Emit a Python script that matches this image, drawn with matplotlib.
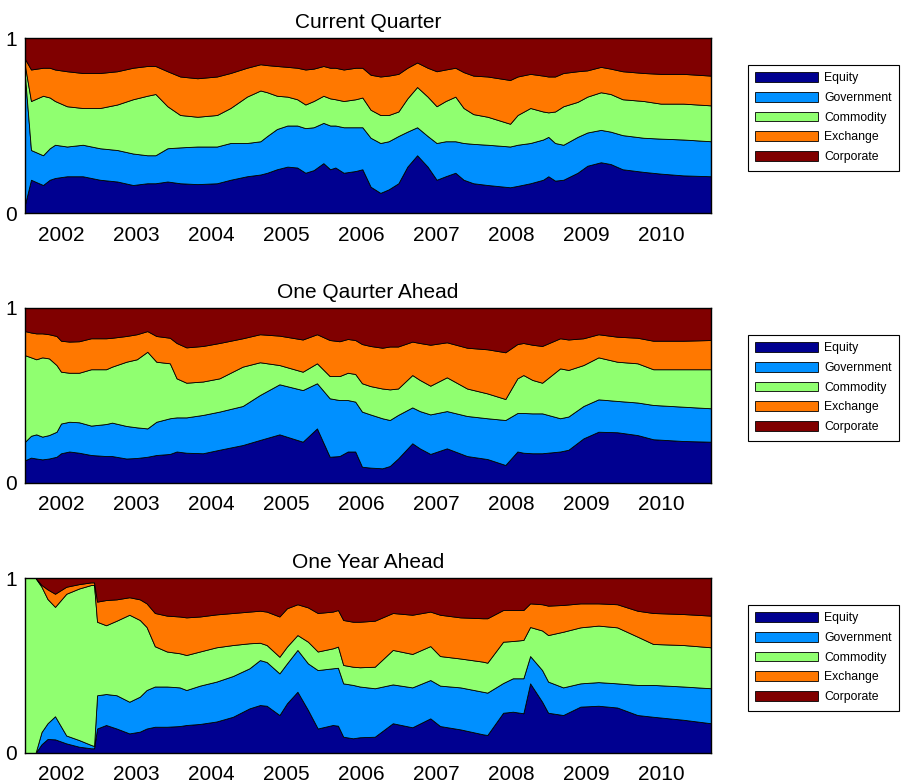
import numpy as np
import matplotlib
matplotlib.use('Agg')
import matplotlib.pyplot as plt

plt.rcParams['font.family'] = ['Liberation Sans', 'DejaVu Sans']

# Categories and colours (jet-like, as in the original MATLAB output)
labels = ['Equity', 'Government', 'Commodity', 'Exchange', 'Corporate']
colors = ['#000090', '#0090ff', '#90ff70', '#ff7800', '#800000']
tick_years = [2002, 2003, 2004, 2005, 2006, 2007, 2008, 2009, 2010]

# Each series below is the cumulative share up to and including that category
# (Corporate always fills the rest up to 1).

# ---- Current Quarter
cq_year = [2001.51, 2001.59, 2001.75, 2001.84, 2001.91, 2002.07, 2002.28, 2002.51, 2002.74, 2002.95,
           2003.14, 2003.25, 2003.41, 2003.58, 2003.81, 2004.07, 2004.25, 2004.47, 2004.65, 2004.74,
           2004.87, 2005.01, 2005.14, 2005.25, 2005.36, 2005.49, 2005.58, 2005.65, 2005.76, 2005.92,
           2006.01, 2006.12, 2006.25, 2006.36, 2006.49, 2006.61, 2006.74, 2006.88, 2007.00, 2007.12,
           2007.25, 2007.36, 2007.49, 2007.68, 2007.98, 2008.08, 2008.25, 2008.42, 2008.49, 2008.58,
           2008.69, 2008.88, 2009.01, 2009.19, 2009.32, 2009.48, 2009.76, 2009.99, 2010.29, 2010.66]
cq_equity = [0.05, 0.19, 0.16, 0.19, 0.20, 0.21, 0.21, 0.19, 0.18, 0.16,
             0.17, 0.17, 0.18, 0.17, 0.165, 0.17, 0.19, 0.21, 0.22, 0.23,
             0.25, 0.265, 0.26, 0.23, 0.245, 0.285, 0.25, 0.26, 0.23, 0.24,
             0.25, 0.15, 0.115, 0.135, 0.17, 0.265, 0.33, 0.265, 0.19, 0.21,
             0.23, 0.19, 0.17, 0.16, 0.147, 0.155, 0.17, 0.19, 0.21, 0.185,
             0.19, 0.23, 0.27, 0.29, 0.28, 0.25, 0.235, 0.225, 0.215, 0.21]
cq_government = [0.78, 0.36, 0.33, 0.37, 0.39, 0.38, 0.39, 0.37, 0.36, 0.34,
                 0.33, 0.33, 0.37, 0.375, 0.38, 0.38, 0.40, 0.40, 0.41, 0.44,
                 0.48, 0.50, 0.50, 0.485, 0.49, 0.515, 0.50, 0.50, 0.49, 0.49,
                 0.49, 0.43, 0.40, 0.41, 0.44, 0.465, 0.49, 0.44, 0.40, 0.41,
                 0.41, 0.40, 0.395, 0.39, 0.38, 0.39, 0.40, 0.42, 0.435, 0.40,
                 0.39, 0.435, 0.46, 0.475, 0.465, 0.445, 0.43, 0.425, 0.42, 0.41]
cq_commodity = [0.84, 0.64, 0.67, 0.66, 0.64, 0.61, 0.60, 0.60, 0.62, 0.65,
                0.67, 0.68, 0.61, 0.56, 0.55, 0.56, 0.60, 0.665, 0.70, 0.69,
                0.67, 0.665, 0.65, 0.62, 0.64, 0.67, 0.655, 0.65, 0.64, 0.65,
                0.66, 0.59, 0.56, 0.56, 0.58, 0.655, 0.72, 0.665, 0.61, 0.64,
                0.665, 0.60, 0.565, 0.55, 0.51, 0.56, 0.60, 0.58, 0.575, 0.58,
                0.61, 0.635, 0.665, 0.69, 0.68, 0.65, 0.64, 0.625, 0.625, 0.615]
cq_exchange = [0.88, 0.82, 0.83, 0.83, 0.82, 0.81, 0.80, 0.80, 0.81, 0.83,
               0.84, 0.84, 0.81, 0.78, 0.77, 0.78, 0.80, 0.83, 0.85, 0.845,
               0.84, 0.835, 0.83, 0.82, 0.825, 0.84, 0.83, 0.83, 0.82, 0.83,
               0.83, 0.79, 0.78, 0.785, 0.795, 0.83, 0.86, 0.83, 0.81, 0.82,
               0.83, 0.805, 0.785, 0.78, 0.76, 0.78, 0.795, 0.785, 0.78, 0.78,
               0.80, 0.81, 0.815, 0.835, 0.825, 0.81, 0.80, 0.795, 0.795, 0.785]

# ---- One Quarter Ahead
oq_year = [2001.52, 2001.60, 2001.67, 2001.75, 2001.84, 2001.94, 2002.00, 2002.11, 2002.24, 2002.40,
           2002.60, 2002.68, 2002.87, 2003.01, 2003.15, 2003.27, 2003.45, 2003.54, 2003.67, 2003.89,
           2004.11, 2004.42, 2004.65, 2004.91, 2005.22, 2005.41, 2005.58, 2005.71, 2005.82, 2005.92,
           2006.01, 2006.12, 2006.28, 2006.38, 2006.49, 2006.68, 2006.78, 2006.92, 2007.14, 2007.41,
           2007.68, 2007.92, 2008.08, 2008.16, 2008.28, 2008.41, 2008.65, 2008.76, 2008.96, 2009.16,
           2009.41, 2009.68, 2009.89, 2010.29, 2010.66]
oq_equity = [0.13, 0.145, 0.14, 0.135, 0.14, 0.15, 0.17, 0.18, 0.173, 0.16,
             0.154, 0.154, 0.14, 0.143, 0.15, 0.16, 0.166, 0.18, 0.173, 0.17,
             0.19, 0.217, 0.246, 0.278, 0.236, 0.312, 0.15, 0.154, 0.18, 0.18,
             0.093, 0.088, 0.084, 0.097, 0.14, 0.227, 0.198, 0.166, 0.198, 0.154,
             0.137, 0.103, 0.18, 0.173, 0.17, 0.17, 0.18, 0.19, 0.255, 0.293,
             0.29, 0.274, 0.25, 0.24, 0.236]
oq_government = [0.236, 0.27, 0.278, 0.265, 0.274, 0.293, 0.34, 0.35, 0.347, 0.328,
                 0.337, 0.345, 0.326, 0.318, 0.312, 0.35, 0.37, 0.375, 0.375, 0.389,
                 0.408, 0.44, 0.503, 0.564, 0.531, 0.57, 0.484, 0.474, 0.474, 0.465,
                 0.408, 0.392, 0.37, 0.36, 0.389, 0.432, 0.411, 0.392, 0.411, 0.383,
                 0.37, 0.36, 0.40, 0.40, 0.398, 0.398, 0.37, 0.38, 0.44, 0.478,
                 0.469, 0.46, 0.446, 0.436, 0.427]
oq_commodity = [0.73, 0.718, 0.707, 0.718, 0.712, 0.674, 0.636, 0.63, 0.63, 0.65,
                0.65, 0.665, 0.693, 0.707, 0.75, 0.693, 0.684, 0.598, 0.573, 0.58,
                0.598, 0.665, 0.69, 0.674, 0.636, 0.684, 0.611, 0.611, 0.63, 0.623,
                0.57, 0.554, 0.54, 0.535, 0.54, 0.617, 0.589, 0.556, 0.604, 0.54,
                0.512, 0.48, 0.598, 0.617, 0.589, 0.573, 0.655, 0.646, 0.674, 0.718,
                0.693, 0.684, 0.65, 0.65, 0.65]
oq_exchange = [0.868, 0.86, 0.855, 0.855, 0.85, 0.84, 0.813, 0.808, 0.81, 0.827,
               0.827, 0.83, 0.84, 0.85, 0.868, 0.84, 0.83, 0.80, 0.775, 0.783,
               0.80, 0.827, 0.85, 0.842, 0.82, 0.85, 0.817, 0.81, 0.823, 0.817,
               0.794, 0.783, 0.773, 0.78, 0.78, 0.808, 0.80, 0.79, 0.804, 0.773,
               0.764, 0.747, 0.794, 0.80, 0.79, 0.783, 0.827, 0.82, 0.827, 0.85,
               0.836, 0.83, 0.813, 0.813, 0.817]

# ---- One Year Ahead
oy_year = [2001.52, 2001.66, 2001.74, 2001.82, 2001.92, 2002.07, 2002.24, 2002.40, 2002.44, 2002.48,
           2002.60, 2002.74, 2002.91, 2003.05, 2003.14, 2003.25, 2003.41, 2003.58, 2003.67, 2003.85,
           2004.07, 2004.29, 2004.51, 2004.65, 2004.74, 2004.91, 2005.01, 2005.15, 2005.29, 2005.42,
           2005.62, 2005.69, 2005.76, 2005.89, 2005.98, 2006.18, 2006.42, 2006.68, 2006.92, 2007.05,
           2007.32, 2007.62, 2007.68, 2007.89, 2008.02, 2008.16, 2008.25, 2008.41, 2008.49, 2008.69,
           2008.92, 2009.16, 2009.41, 2009.68, 2009.89, 2010.29, 2010.66]
oy_equity = [0.0, 0.0, 0.05, 0.08, 0.078, 0.055, 0.036, 0.027, 0.027, 0.14,
             0.16, 0.14, 0.112, 0.122, 0.14, 0.15, 0.15, 0.154, 0.16, 0.166,
             0.18, 0.207, 0.255, 0.274, 0.27, 0.217, 0.284, 0.35, 0.246, 0.14,
             0.16, 0.156, 0.093, 0.084, 0.09, 0.093, 0.17, 0.147, 0.198, 0.154,
             0.135, 0.107, 0.103, 0.23, 0.236, 0.227, 0.398, 0.293, 0.23, 0.217,
             0.265, 0.27, 0.26, 0.217, 0.207, 0.19, 0.17]
oy_government = [0.0, 0.0, 0.12, 0.17, 0.21, 0.10, 0.074, 0.046, 0.04, 0.33,
                 0.337, 0.33, 0.293, 0.322, 0.36, 0.38, 0.38, 0.375, 0.36, 0.385,
                 0.408, 0.44, 0.484, 0.531, 0.52, 0.455, 0.512, 0.589, 0.512, 0.474,
                 0.484, 0.487, 0.398, 0.389, 0.38, 0.37, 0.392, 0.375, 0.417, 0.385,
                 0.375, 0.35, 0.345, 0.40, 0.427, 0.427, 0.554, 0.474, 0.408, 0.375,
                 0.398, 0.405, 0.398, 0.389, 0.389, 0.38, 0.37]
oy_commodity = [1.0, 1.0, 0.95, 0.88, 0.835, 0.91, 0.94, 0.96, 0.96, 0.75,
                0.73, 0.756, 0.79, 0.76, 0.72, 0.61, 0.58, 0.57, 0.56, 0.58,
                0.604, 0.617, 0.627, 0.63, 0.617, 0.55, 0.608, 0.674, 0.636, 0.58,
                0.598, 0.608, 0.503, 0.493, 0.49, 0.493, 0.589, 0.566, 0.611, 0.554,
                0.54, 0.522, 0.516, 0.636, 0.64, 0.646, 0.72, 0.70, 0.674, 0.693,
                0.718, 0.728, 0.718, 0.665, 0.623, 0.617, 0.604]
oy_exchange = [1.0, 1.0, 0.96, 0.935, 0.91, 0.95, 0.965, 0.975, 0.975, 0.865,
               0.874, 0.878, 0.89, 0.878, 0.855, 0.80, 0.785, 0.78, 0.775, 0.78,
               0.792, 0.80, 0.808, 0.813, 0.808, 0.78, 0.827, 0.85, 0.832, 0.80,
               0.808, 0.817, 0.76, 0.75, 0.75, 0.756, 0.80, 0.79, 0.808, 0.79,
               0.775, 0.77, 0.77, 0.817, 0.817, 0.817, 0.855, 0.85, 0.842, 0.846,
               0.855, 0.855, 0.85, 0.813, 0.80, 0.794, 0.785]


def draw_panel(ax, title, year, tops):
    year = np.asarray(year)
    lower = np.zeros(len(year))
    bands = [np.asarray(t) for t in tops] + [np.ones(len(year))]
    for upper, name, col in zip(bands, labels, colors):
        ax.fill_between(year, lower, upper, facecolor=col, edgecolor='black',
                        linewidth=0.6, label=name)
        lower = upper
    ax.set_xlim(year[0], year[-1])
    ax.set_ylim(0, 1)
    ax.set_xticks(tick_years)
    ax.set_yticks([0, 1])
    ax.tick_params(length=0, labelsize=15)
    ax.tick_params(axis='x', pad=9)
    ax.tick_params(axis='y', pad=6)
    for sp in ax.spines.values():
        sp.set_linewidth(1.0)
    ax.set_title(title, fontsize=15, pad=7)


def main():
    fig = plt.figure(figsize=(9.04, 7.83), dpi=100)
    W, H = 904, 783
    panels = [
        ('Current Quarter', cq_year, [cq_equity, cq_government, cq_commodity, cq_exchange], 38, 65),
        ('One Qaurter Ahead', oq_year, [oq_equity, oq_government, oq_commodity, oq_exchange], 308, 335),
        ('One Year Ahead', oy_year, [oy_equity, oy_government, oy_commodity, oy_exchange], 578, 605),
    ]
    for title, year, tops, top_px, leg_px in panels:
        ax = fig.add_axes([25 / W, 1 - (top_px + 175) / H, 686 / W, 175 / H])
        draw_panel(ax, title, year, tops)
        leg = ax.legend(loc='upper left', bbox_to_anchor=(748 / W, 1 - leg_px / H),
                        bbox_transform=fig.transFigure, fontsize=8.8, frameon=True,
                        fancybox=False, framealpha=1, edgecolor='black',
                        handlelength=5.1, handleheight=0.85, handletextpad=0.55,
                        labelspacing=0.62, borderpad=0.6, borderaxespad=0)
        leg.get_frame().set_linewidth(0.8)

    fig.savefig('out.png', dpi=100)


if __name__ == '__main__':
    main()
